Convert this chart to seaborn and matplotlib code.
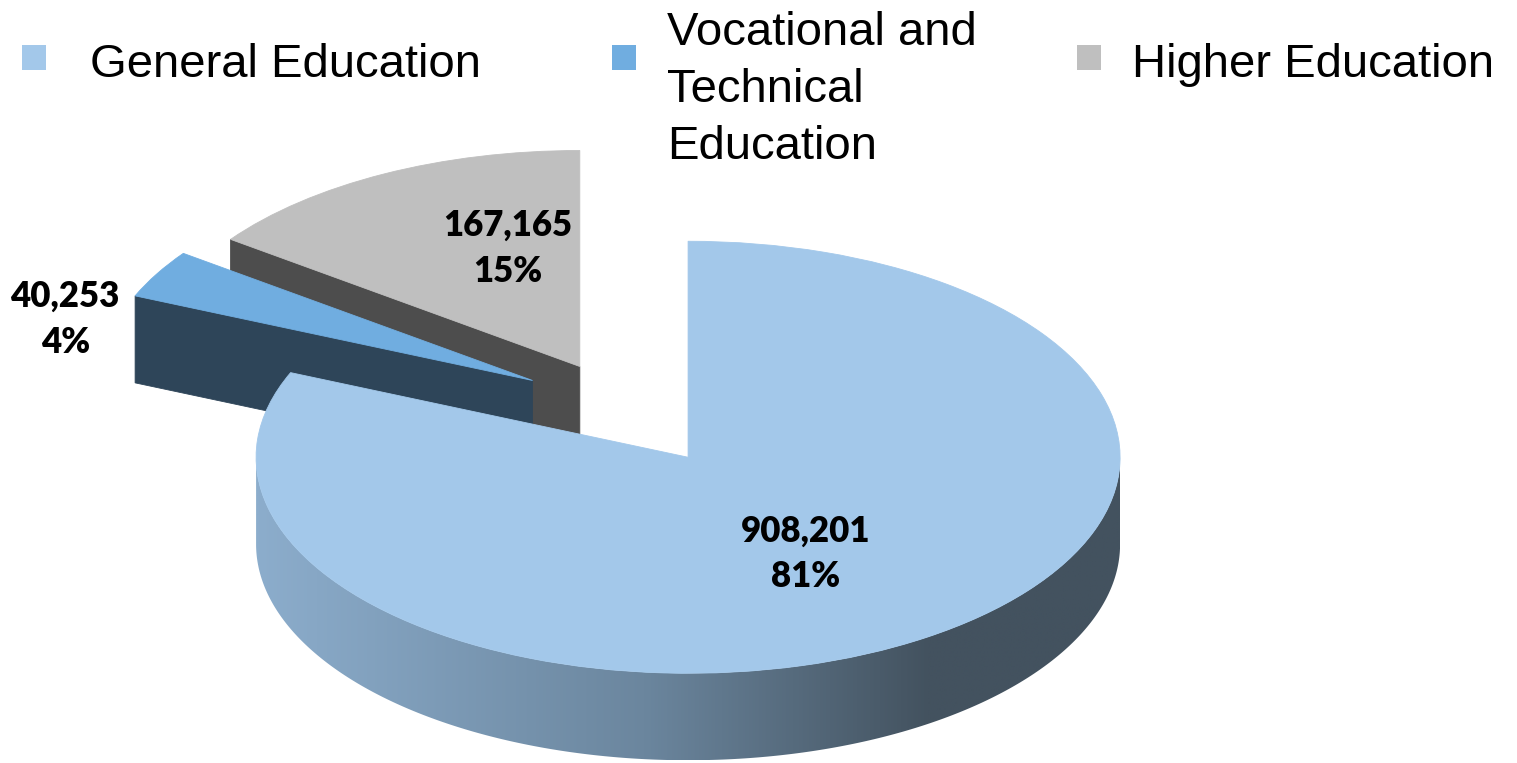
import numpy as np
import matplotlib
matplotlib.use("Agg")
import matplotlib.pyplot as plt
import seaborn as sns
from matplotlib.patches import Polygon, Rectangle
from matplotlib.transforms import Affine2D
from matplotlib.colors import LinearSegmentedColormap

categories = ["General Education", "Vocational and\nTechnical\nEducation", "Higher Education"]
students = [908201, 40253, 167165]

top_colors = ["#a3c8ea", "#70ade0", "#bfbfbf"]
side_colors = ["#8cadcc", "#2e4559", "#4d4d4d"]
wall_colors = [["#8cadcc", "#6b869e", "#43525f", "#43525f"],
               ["#2e4559", "#2e4559"],
               ["#4d4d4d", "#4d4d4d"]]
explode = [0.29, 0.23, 0.20]
# label block centre, offset from the slice apex in radius units
label_offsets = [(0.271, -0.44), (-1.082, 0.289), (-0.167, 0.553)]

W, H = 1517, 763
CX, CY = 619, 405      # pie centre in pixels
RX, RY = 432, 216      # ellipse radii of the tilted pie
DEPTH = 87

sns.set_theme(style="white")
plt.rcParams["font.family"] = ["Liberation Sans", "DejaVu Sans"]
plt.rcParams["text.color"] = "black"

fig = plt.figure(figsize=(W / 100, H / 100), dpi=100)
ax = fig.add_axes([0, 0, 1, 1])

wedges, _ = ax.pie(students, explode=explode, startangle=90, counterclock=False,
                   colors=top_colors, radius=1, center=(0, 0))
ax.set_xlim(0, W)
ax.set_ylim(H, 0)
ax.set_aspect("auto")
ax.axis("off")

flat = Affine2D().scale(RX, -RY).translate(CX, CY)


def to_px(x, y):
    return CX + RX * np.asarray(x), CY - RY * np.asarray(y)


# back to front: slices whose apex sits higher on screen are further away
order = sorted(range(len(wedges)), key=lambda i: to_px(*wedges[i].center)[1])
total = sum(students)

for rank, i in enumerate(order):
    w = wedges[i]
    z = 2 + 3 * rank
    ctr = np.array(w.center)
    r = w.r

    # radial cut faces that look towards the viewer
    for ang, visible in [(w.theta1, np.cos(np.radians(w.theta1)) > 1e-6),
                         (w.theta2, np.cos(np.radians(w.theta2)) < -1e-6)]:
        if not visible:
            continue
        a = np.radians(ang)
        x0, y0 = to_px(*ctr)
        x1, y1 = to_px(ctr[0] + r * np.cos(a), ctr[1] + r * np.sin(a))
        quad = [(x0, y0), (x1, y1), (x1, y1 + DEPTH), (x0, y0 + DEPTH)]
        ax.add_patch(Polygon(quad, closed=True, facecolor=side_colors[i],
                             edgecolor=side_colors[i], lw=0.6, zorder=z))

    # outer wall on the front half of the ellipse
    for k in range(-2, 2):
        lo = max(w.theta1, -180 + 360 * k)
        hi = min(w.theta2, 360 * k)
        if hi <= lo:
            continue
        t = np.radians(np.linspace(lo, hi, 300))
        xs, ys = to_px(ctr[0] + r * np.cos(t), ctr[1] + r * np.sin(t))
        pts = np.column_stack([np.r_[xs, xs[::-1]], np.r_[ys, ys[::-1] + DEPTH]])
        clip = Polygon(pts, closed=True, facecolor="none", edgecolor="none",
                       transform=ax.transData)
        ax.add_patch(clip)
        cmap = LinearSegmentedColormap.from_list(f"wall{i}", wall_colors[i]
                                                 if len(wall_colors[i]) == 2 else
                                                 list(zip([0, 0.45, 0.78, 1.0], wall_colors[i])))
        cxp, cyp = to_px(*ctr)
        im = ax.imshow(np.linspace(0, 1, 512).reshape(1, -1), cmap=cmap, aspect="auto",
                       extent=(cxp - r * RX, cxp + r * RX, cyp + r * RY + DEPTH, cyp),
                       interpolation="bilinear", zorder=z)
        im.set_clip_path(clip)

    # top face
    w.set_transform(flat + ax.transData)
    w.set_edgecolor(top_colors[i])
    w.set_linewidth(0.6)
    w.set_zorder(z + 1)

    # data label
    lx, ly = to_px(ctr[0] + label_offsets[i][0], ctr[1] + label_offsets[i][1])
    ax.text(lx, ly - 11, f"{students[i]:,}", ha="center", va="baseline", color="black",
            fontsize=25, fontweight="heavy", family=["Lato", "DejaVu Sans"], zorder=20)
    ax.text(lx, ly + 35, f"{round(100 * students[i] / total)}%", ha="center", va="baseline",
            color="black", fontsize=25, fontweight="heavy", family=["Lato", "DejaVu Sans"],
            zorder=20)

ax.set_xlim(0, W)
ax.set_ylim(H, 0)

# legend along the top
square_x = [22, 612, 1077]
text_x = [90, 667, 1132]
first_baseline = [77, 45, 77]
for i, name in enumerate(categories):
    ax.add_patch(Rectangle((square_x[i], 45), 24, 25, facecolor=top_colors[i],
                           edgecolor="none", zorder=20))
    for j, line in enumerate(name.split("\n")):
        ax.text(text_x[i], first_baseline[i] + 57 * j, line, ha="left", va="baseline",
                fontsize=34, color="black", zorder=20)

fig.savefig("out.png", dpi=100)
